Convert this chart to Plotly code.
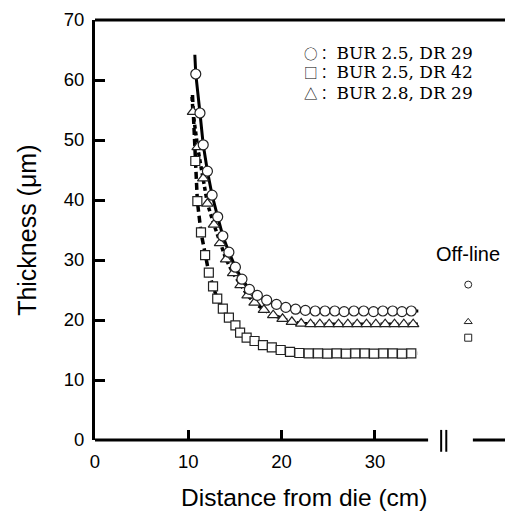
import plotly.graph_objects as go

# BUR 2.5, DR 29 (circles, solid fit)
circ_x = [10.8, 11.25, 11.6, 12.05, 12.55, 13.15, 13.7, 14.35, 15.05, 15.75, 16.55, 17.4, 18.4,
          19.45, 20.45, 21.5, 22.55, 23.6, 24.65, 25.7, 26.7, 27.75, 28.8, 29.85, 30.85, 31.9, 32.9, 33.9]
circ_y = [61.0, 54.5, 49.2, 44.8, 40.8, 37.2, 34.0, 31.3, 28.8, 26.8, 25.1, 24.1, 23.3,
          22.6, 22.1, 21.8, 21.6, 21.5, 21.5, 21.5, 21.4, 21.5, 21.5, 21.4, 21.5, 21.5, 21.4, 21.5]
circ_fit_x = [10.7, 10.8, 11.25, 11.6, 12.05, 12.55, 13.15, 13.7, 14.35, 15.05, 15.75, 16.55, 17.4,
              18.4, 19.45, 20.45, 21.5, 22.55, 24.0, 26.0, 28.0, 30.0, 32.0, 34.65]
circ_fit_y = [64.2, 61.0, 54.5, 49.2, 44.8, 40.8, 37.2, 34.0, 31.3, 28.8, 26.8, 25.1, 24.0,
              23.2, 22.5, 22.1, 21.8, 21.6, 21.5, 21.5, 21.5, 21.5, 21.5, 21.5]

# BUR 2.5, DR 42 (squares, dashed fit)
sq_x = [10.75, 10.97, 11.36, 11.8, 12.2, 12.65, 13.1, 13.7, 14.35, 15.05, 15.55, 16.25, 17.1, 18.0,
        18.95, 19.9, 20.9, 21.9, 22.9, 23.9, 24.9, 25.9, 26.9, 27.9, 28.9, 29.9, 30.9, 31.9, 32.9, 33.9]
sq_y = [46.5, 39.8, 34.6, 30.8, 27.9, 25.6, 23.55, 21.9, 20.4, 19.1, 17.9, 17.05, 16.5, 15.8,
        15.45, 15.0, 14.7, 14.5, 14.45, 14.45, 14.4, 14.45, 14.4, 14.45, 14.45, 14.4, 14.45, 14.45, 14.4, 14.45]
sq_fit_x = [10.45, 10.75, 10.97, 11.36, 11.8, 12.2, 12.65, 13.1, 13.7, 14.35, 15.05, 15.55, 16.25,
            17.1, 18.0, 19.0, 20.0, 21.0, 22.0, 24.0, 27.0, 30.0, 34.6]
sq_fit_y = [57.5, 46.5, 39.8, 34.6, 30.8, 27.9, 25.6, 23.55, 21.9, 20.4, 19.1, 17.9, 17.05,
            16.5, 15.8, 15.3, 14.9, 14.6, 14.5, 14.45, 14.45, 14.45, 14.45]

# BUR 2.8, DR 29 (triangles, dotted fit)
tri_x = [10.5, 11.0, 11.6, 12.05, 12.75, 13.4, 14.05, 14.8, 15.6, 16.35, 17.1, 18.1, 19.1, 20.1,
         21.1, 22.1, 23.1, 24.1, 25.1, 26.1, 27.1, 28.1, 29.1, 30.1, 31.1, 32.1, 33.1, 34.1]
tri_y = [54.7, 48.8, 43.6, 39.4, 35.9, 32.8, 30.1, 27.8, 25.8, 24.1, 22.9, 21.7, 20.8, 20.2,
         19.7, 19.4, 19.3, 19.3, 19.3, 19.3, 19.3, 19.3, 19.3, 19.3, 19.3, 19.3, 19.3, 19.3]
tri_fit_x = [10.4, 10.5, 11.0, 11.6, 12.05, 12.75, 13.4, 14.05, 14.8, 15.6, 16.35, 17.1, 18.1,
             19.1, 20.1, 21.1, 22.1, 24.0, 27.0, 30.0, 34.6]
tri_fit_y = [57.2, 54.7, 48.8, 43.6, 39.4, 35.9, 32.8, 30.1, 27.8, 25.8, 24.1, 22.9, 21.7,
             20.8, 20.2, 19.7, 19.4, 19.3, 19.3, 19.3, 19.3]

# off-line values (circle, triangle, square)
offline_x = [40, 40, 40]
offline_y = [25.9, 19.7, 17.05]
offline_sym = ["circle", "triangle-up", "square"]

legend_syms = ["○：", "□：", "△："]
legend_labels = ["BUR 2.5, DR 29", "BUR 2.5, DR 42", "BUR 2.8, DR 29"]
legend_y = [64.55, 61.3, 57.8]

xticks = [0, 10, 20, 30]
yticks = [0, 10, 20, 30, 40, 50, 60, 70]

fig = go.Figure()

fig.add_trace(go.Scatter(x=sq_fit_x, y=sq_fit_y, mode="lines",
                         line=dict(color="black", width=3.5, dash="7px,4px")))
fig.add_trace(go.Scatter(x=tri_fit_x, y=tri_fit_y, mode="lines",
                         line=dict(color="black", width=3.5, dash="4px,3px")))
fig.add_trace(go.Scatter(x=circ_fit_x, y=circ_fit_y, mode="lines",
                         line=dict(color="black", width=3)))

mk_line = dict(color="#222222", width=1.2)
fig.add_trace(go.Scatter(x=sq_x, y=sq_y, mode="markers",
                         marker=dict(symbol="square", size=9, color="white", line=mk_line)))
fig.add_trace(go.Scatter(x=tri_x, y=tri_y, mode="markers",
                         marker=dict(symbol="triangle-up", size=10, color="white", line=mk_line)))
fig.add_trace(go.Scatter(x=circ_x, y=circ_y, mode="markers",
                         marker=dict(symbol="circle", size=10, color="white", line=mk_line)))

fig.add_trace(go.Scatter(x=offline_x, y=offline_y, mode="markers",
                         marker=dict(symbol=offline_sym, size=7, color="white",
                                     line=dict(color="#222222", width=1))))

fig.add_annotation(x=40, y=31.0, text="Off-line", showarrow=False,
                   font=dict(family="Liberation Sans", size=20, color="black"))

for sym, lab, yy in zip(legend_syms, legend_labels, legend_y):
    txt = '<span style="font-family:Noto Sans CJK JP;font-size:13.5px">' + sym + '</span> ' + lab
    fig.add_annotation(x=22.15, y=yy, text=txt, showarrow=False, xanchor="left", yanchor="middle",
                       font=dict(family="DejaVu Serif", size=17, color="black"))

# axis titles
fig.add_annotation(x=0.5, y=-0.138, xref="paper", yref="paper", text="Distance from die (cm)",
                   showarrow=False, yanchor="middle",
                   font=dict(family="Liberation Sans", size=24.5, color="black"))
fig.add_annotation(x=-0.163, y=0.5, xref="paper", yref="paper", text="Thickness (μm)",
                   showarrow=False, textangle=-90, xanchor="center",
                   font=dict(family="Liberation Sans", size=25, color="black"))

# bottom axis with break, top border
fig.add_shape(type="line", xref="x", yref="paper", x0=0, x1=35.7, y0=0, y1=0,
              line=dict(color="black", width=3))
fig.add_shape(type="line", xref="x", yref="paper", x0=40.5, x1=44.8, y0=0, y1=0,
              line=dict(color="black", width=3))
for bx in [37.1, 37.65]:
    fig.add_shape(type="line", xref="x", yref="paper", x0=bx, x1=bx, y0=-0.028, y1=0.024,
                  line=dict(color="black", width=2))
fig.add_shape(type="line", xref="paper", yref="paper", x0=0, x1=1, y0=1, y1=1,
              line=dict(color="black", width=3))

fig.update_xaxes(range=[0, 44.8], showline=False, showgrid=False, zeroline=False,
                 ticks="inside", ticklen=10, tickwidth=2.5, tickcolor="black",
                 tickvals=xticks, ticktext=[str(v) for v in xticks], ticklabelstandoff=8,
                 tickfont=dict(family="Liberation Sans", size=18.5, color="black"))
fig.update_yaxes(range=[0, 70], showline=True, linewidth=3, linecolor="black",
                 showgrid=False, zeroline=False,
                 ticks="inside", ticklen=10, tickwidth=2.5, tickcolor="black",
                 tickvals=yticks, ticklabelstandoff=4,
                 tickfont=dict(family="Liberation Sans", size=18.5, color="black"))

# page body adds 8px, so the figure is 8px smaller than the window
fig.update_layout(width=505, height=504, margin=dict(l=87, r=0, t=12, b=72),
                  plot_bgcolor="white", paper_bgcolor="white", showlegend=False)

fig.write_html("out.html")
